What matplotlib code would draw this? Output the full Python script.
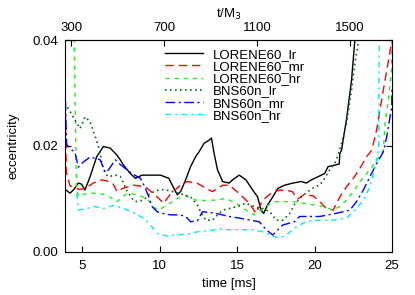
import matplotlib
matplotlib.use("Agg")
import matplotlib.pyplot as plt

plt.rcParams['font.family'] = ['Liberation Sans', 'DejaVu Sans']

# values (time in ms, eccentricity)
lor_lr_t = [3.94, 4.20, 4.42, 4.74, 4.95, 5.17, 5.50, 5.93, 6.36, 6.80, 7.23, 7.45, 7.66,
            8.10, 8.43, 8.86, 9.61, 10.05, 10.59, 10.81, 11.13, 11.35, 11.67, 11.99,
            12.32, 12.54, 12.86, 13.19, 13.34, 13.51, 13.73, 14.06, 14.48, 14.70, 15.13,
            15.57, 16.00, 16.32, 16.54, 16.71, 16.97, 17.30, 17.62, 18.06, 18.60, 19.14,
            19.46, 19.79, 20.22, 20.65, 20.87, 21.30, 21.59, 21.63, 21.74, 22.06, 22.39,
            22.60, 22.70]
lor_lr_e = [0.0117, 0.0111, 0.0117, 0.0130, 0.0128, 0.0117, 0.0142, 0.0180, 0.0199,
            0.0196, 0.0183, 0.0174, 0.0164, 0.0148, 0.0139, 0.0145, 0.0145, 0.0145,
            0.0139, 0.0126, 0.0108, 0.0114, 0.0136, 0.0161, 0.0180, 0.0189, 0.0205,
            0.0211, 0.0215, 0.0186, 0.0155, 0.0133, 0.0130, 0.0136, 0.0145, 0.0136,
            0.0117, 0.0104, 0.0079, 0.0073, 0.0089, 0.0104, 0.0120, 0.0126, 0.0130,
            0.0133, 0.0130, 0.0136, 0.0142, 0.0148, 0.0161, 0.0164, 0.0166, 0.0186,
            0.0192, 0.0250, 0.0325, 0.0400, 0.0420]

lor_mr_t = [3.88, 3.96, 4.20, 4.80, 5.20, 5.70, 6.20, 6.60, 7.00, 7.24, 7.60, 8.30, 8.90,
            9.20, 9.60, 10.26, 10.70, 11.35, 11.78, 12.40, 13.00, 13.40, 14.06, 14.50,
            15.10, 15.78, 16.21, 16.65, 17.19, 17.73, 18.20, 18.56, 18.90, 19.30, 19.90,
            20.33, 20.76, 21.20, 21.63, 22.06, 22.50, 22.93, 23.36, 23.69, 24.00, 24.44,
            25.00]
lor_mr_e = [0.0310, 0.0150, 0.0125, 0.0118, 0.0120, 0.0130, 0.0136, 0.0134, 0.0128,
            0.0114, 0.0120, 0.0126, 0.0124, 0.0120, 0.0110, 0.0092, 0.0110, 0.0126,
            0.0133, 0.0130, 0.0120, 0.0114, 0.0126, 0.0126, 0.0111, 0.0092, 0.0073,
            0.0098, 0.0111, 0.0117, 0.0116, 0.0114, 0.0100, 0.0108, 0.0106, 0.0095,
            0.0082, 0.0079, 0.0104, 0.0123, 0.0139, 0.0158, 0.0180, 0.0192, 0.0230,
            0.0306, 0.0400]

lor_hr_t = [4.46, 4.55, 4.62, 4.75, 5.05, 5.70, 6.35, 6.80, 7.24, 7.89, 8.54, 9.18, 9.61,
            9.94, 10.48, 11.13, 11.67, 12.32, 12.97, 13.62, 14.27, 14.92, 15.57, 16.11,
            16.87, 17.41, 18.60, 19.25, 19.90, 20.55, 21.20, 21.63, 22.06, 22.50, 22.93,
            23.36, 23.80, 24.44, 24.55, 24.77, 24.98, 25.00]
lor_hr_e = [0.0420, 0.0250, 0.0120, 0.0105, 0.0109, 0.0111, 0.0109, 0.0103, 0.0095,
            0.0111, 0.0108, 0.0101, 0.0084, 0.0079, 0.0089, 0.0101, 0.0106, 0.0098,
            0.0097, 0.0098, 0.0101, 0.0092, 0.0079, 0.0070, 0.0086, 0.0095, 0.0095,
            0.0092, 0.0089, 0.0086, 0.0079, 0.0086, 0.0098, 0.0114, 0.0133, 0.0148,
            0.0164, 0.0192, 0.0243, 0.0287, 0.0350, 0.0400]

bns_lr_t = [3.88, 4.53, 4.85, 5.18, 5.50, 5.83, 6.15, 6.26, 6.48, 6.69, 7.13, 7.45, 7.89,
            8.31, 8.54, 8.96, 9.40, 9.83, 10.26, 10.81, 11.56, 11.99, 12.43, 12.65, 12.97,
            13.41, 13.73, 14.06, 14.48, 15.03, 15.57, 16.43, 16.76, 17.19, 17.52, 17.95,
            18.38, 18.70, 19.14, 19.57, 20.00, 20.33, 20.65, 20.98, 21.30, 21.63, 22.06,
            22.39, 22.60, 22.82, 22.87]
bns_lr_e = [0.0281, 0.0249, 0.0233, 0.0255, 0.0246, 0.0218, 0.0189, 0.0167, 0.0148,
            0.0142, 0.0145, 0.0143, 0.0115, 0.0097, 0.0095, 0.0098, 0.0111, 0.0116,
            0.0118, 0.0114, 0.0108, 0.0104, 0.0089, 0.0075, 0.0060, 0.0060, 0.0070,
            0.0079, 0.0082, 0.0086, 0.0092, 0.0082, 0.0082, 0.0073, 0.0060, 0.0060,
            0.0072, 0.0090, 0.0104, 0.0114, 0.0123, 0.0126, 0.0139, 0.0155, 0.0167,
            0.0192, 0.0243, 0.0306, 0.0356, 0.0394, 0.0400]

bns_mr_t = [3.88, 3.95, 3.99, 4.31, 4.53, 4.74, 5.07, 5.50, 5.93, 6.15, 6.48, 6.69, 7.13,
            7.45, 7.89, 8.20, 8.75, 9.00, 9.29, 9.50, 9.83, 10.30, 10.70, 11.35, 11.78,
            11.99, 12.43, 12.76, 13.62, 14.48, 15.13, 16.43, 16.87, 17.30, 17.63, 17.95,
            18.70, 19.03, 20.33, 21.41, 21.85, 22.28, 22.71, 23.15, 23.57, 24.01, 24.44,
            24.66, 24.98, 25.00]
bns_mr_e = [0.0320, 0.0236, 0.0202, 0.0193, 0.0187, 0.0160, 0.0170, 0.0179, 0.0176,
            0.0174, 0.0150, 0.0155, 0.0174, 0.0165, 0.0155, 0.0148, 0.0139, 0.0125,
            0.0104, 0.0086, 0.0076, 0.0072, 0.0070, 0.0070, 0.0064, 0.0057, 0.0059,
            0.0076, 0.0073, 0.0067, 0.0064, 0.0057, 0.0042, 0.0032, 0.0042, 0.0051,
            0.0057, 0.0067, 0.0067, 0.0073, 0.0076, 0.0079, 0.0095, 0.0117, 0.0142,
            0.0167, 0.0189, 0.0218, 0.0274, 0.0310]

bns_hr_t = [4.64, 4.74, 5.29, 5.72, 6.37, 7.02, 7.67, 8.31, 8.96, 9.40, 9.83, 10.48, 11.13,
            11.78, 12.43, 13.83, 14.48, 16.00, 16.65, 17.30, 17.73, 18.17, 18.70, 19.46,
            20.33, 21.20, 22.06, 22.71, 23.15, 23.57, 23.80, 24.01, 24.13, 24.18]
bns_hr_e = [0.0110, 0.0079, 0.0082, 0.0086, 0.0082, 0.0088, 0.0082, 0.0074, 0.0064,
            0.0051, 0.0035, 0.0030, 0.0032, 0.0034, 0.0038, 0.0043, 0.0042, 0.0042,
            0.0038, 0.0030, 0.0026, 0.0032, 0.0045, 0.0058, 0.0060, 0.0060, 0.0064,
            0.0082, 0.0098, 0.0123, 0.0148, 0.0174, 0.0192, 0.0410]

labels = ['LORENE60_lr', 'LORENE60_mr', 'LORENE60_hr', 'BNS60n_lr', 'BNS60n_mr', 'BNS60n_hr']
top_ticks = [300, 700, 1100, 1500]

fs = 9.5
fig = plt.figure(figsize=(4.15, 2.95), dpi=100)
ax = fig.add_axes([0.1566, 0.1458, 0.788, 0.7186])

ax.plot(lor_lr_t, lor_lr_e, color='black', lw=1.0, label=labels[0])
ax.plot(lor_mr_t, lor_mr_e, color='#ff0000', lw=1.0, ls=(0, (6, 3.5)), label=labels[1])
ax.plot(lor_hr_t, lor_hr_e, color='#22ee22', lw=1.0, ls=(0, (3, 3.5)), label=labels[2])
ax.plot(bns_lr_t, bns_lr_e, color='#116611', lw=1.2, ls=(0, (1, 2)), label=labels[3])
ax.plot(bns_mr_t, bns_mr_e, color='#0000ff', lw=1.0, ls=(0, (7, 2.5, 1.5, 2.5)), label=labels[4])
ax.plot(bns_hr_t, bns_hr_e, color='#00eeee', lw=1.0, ls=(0, (4, 3, 1.5, 3)), label=labels[5])

ax.set_xlim(3.88, 25)
ax.set_ylim(0, 0.04)
ax.set_xticks([5, 10, 15, 20, 25])
ax.set_yticks([0, 0.02, 0.04])
ax.set_yticklabels(['0.00', '0.02', '0.04'])
ax.tick_params(axis='both', direction='in', labelsize=fs, length=4, width=0.8)
ax.tick_params(axis='x', pad=6)
ax.tick_params(axis='y', right=True, pad=5)
ax.set_xlabel('time [ms]', fontsize=fs, labelpad=4)
ax.set_ylabel('eccentricity', fontsize=fs, labelpad=9)
for s in ax.spines.values():
    s.set_linewidth(0.8)

# second time axis in units of M3
sec = ax.secondary_xaxis('top', functions=(lambda t: (t + 0.23) / 0.015,
                                          lambda m: 0.015 * m - 0.23))
sec.set_xticks(top_ticks)
sec.tick_params(direction='in', labelsize=fs, length=4, width=0.8, pad=4)
sec.set_xlabel('t/M$_3$', fontsize=fs, labelpad=3)

ax.legend(loc='upper left', bbox_to_anchor=(0.28, 1.0), frameon=False, fontsize=fs,
          handlelength=2.9, handletextpad=0.75, labelspacing=0.0, borderaxespad=0.25)

fig.savefig('out.png', dpi=100)
